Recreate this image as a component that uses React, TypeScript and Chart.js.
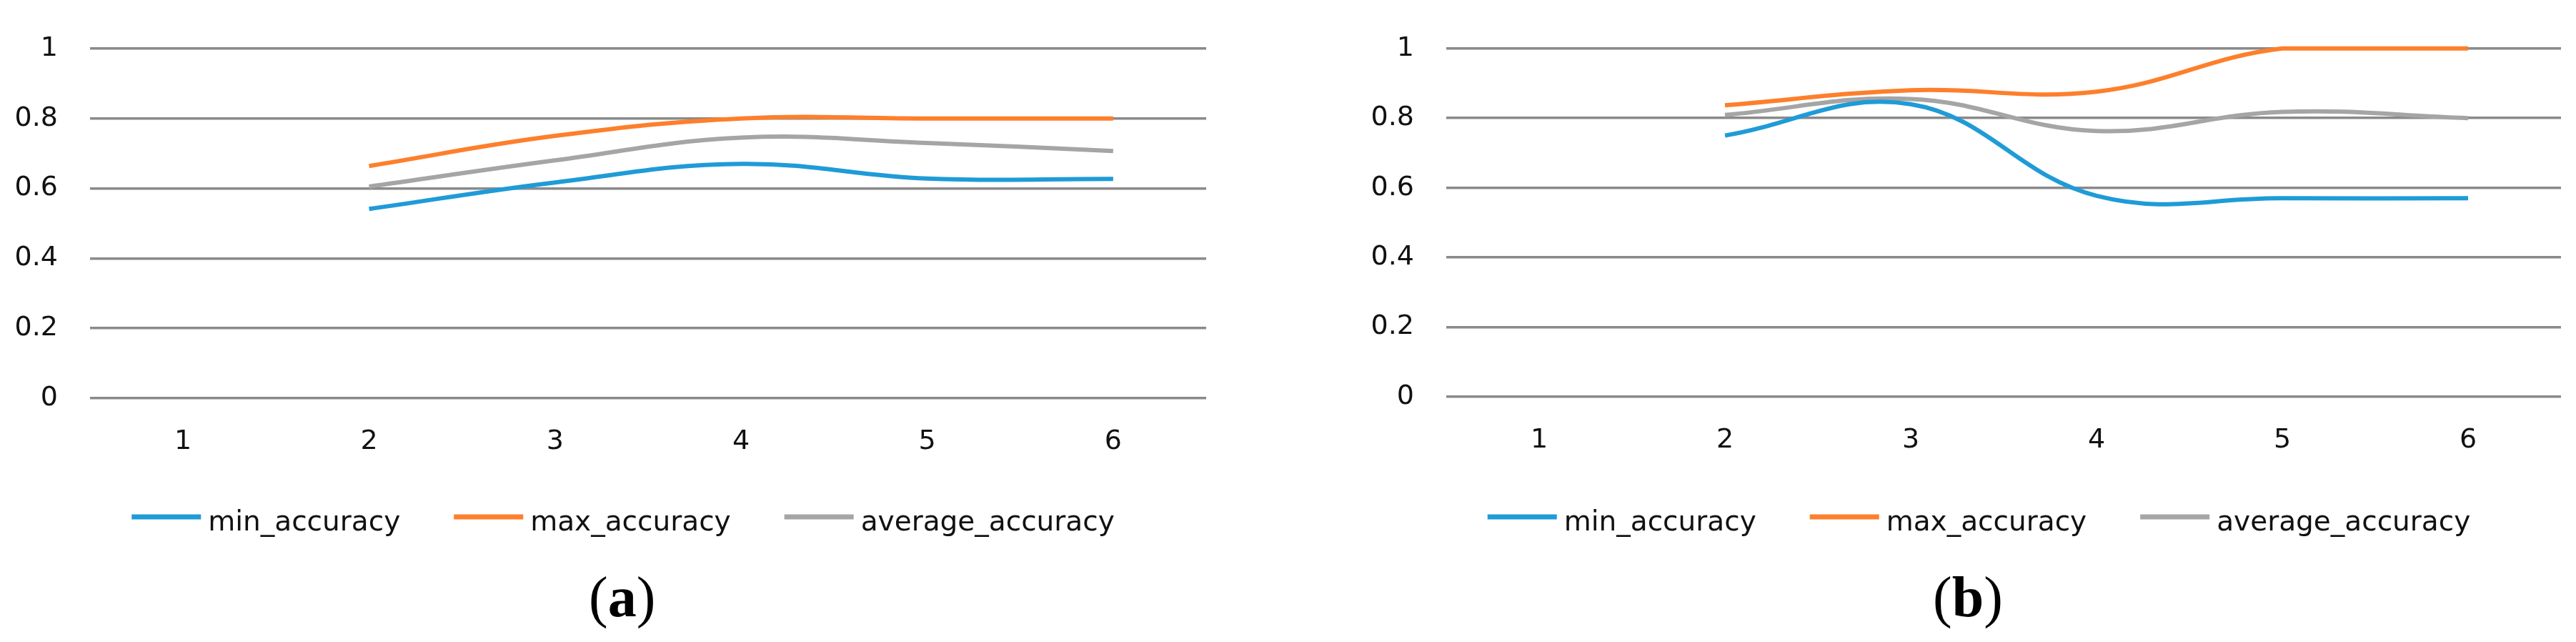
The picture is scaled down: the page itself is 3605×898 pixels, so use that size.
import React, { useEffect, useRef } from "react";
import { Chart, registerables } from "chart.js";

Chart.register(...registerables);

// ---------- data ----------
const categories = ["1", "2", "3", "4", "5", "6"];
const seriesNames = ["min_accuracy", "max_accuracy", "average_accuracy"];
const seriesColors = ["#1f9bd7", "#fd7f2c", "#a5a5a5"];
const yTickValues = [0, 0.2, 0.4, 0.6, 0.8, 1];
const yTickLabels = ["0", "0.2", "0.4", "0.6", "0.8", "1"];

const aMin = [null, 0.541, 0.617, 0.670, 0.628, 0.627];
const aMax = [null, 0.664, 0.750, 0.800, 0.800, 0.800];
const aAvg = [null, 0.605, 0.680, 0.745, 0.730, 0.707];

const bMin = [null, 0.750, 0.840, 0.577, 0.570, 0.570];
const bMax = [null, 0.837, 0.880, 0.876, 1.000, 1.000];
const bAvg = [null, 0.809, 0.855, 0.763, 0.818, 0.800];

const captionA = "a";
const captionB = "b";

// ---------- legend plugin ----------
const lineLegend = {
  id: "lineLegend",
  afterDraw(chart: any, _args: any, opts: any) {
    const ctx = chart.ctx;
    ctx.save();
    ctx.font = `${opts.fontSize}px ${opts.family}`;
    const items = chart.data.datasets.map((ds: any) => ({ text: ds.label, color: ds.borderColor }));
    const widths = items.map((it: any) => opts.lineLen + opts.textGap + ctx.measureText(it.text).width);
    const total = widths.reduce((a: number, b: number) => a + b, 0) + opts.itemGap * (items.length - 1);
    let x = opts.centerX - total / 2;
    items.forEach((it: any, i: number) => {
      ctx.strokeStyle = it.color;
      ctx.lineWidth = opts.lineWidth;
      ctx.lineCap = "butt";
      ctx.beginPath();
      ctx.moveTo(x, opts.lineY);
      ctx.lineTo(x + opts.lineLen, opts.lineY);
      ctx.stroke();
      ctx.fillStyle = "#111";
      ctx.textBaseline = "alphabetic";
      ctx.textAlign = "left";
      ctx.fillText(it.text, x + opts.lineLen + opts.textGap, opts.baseline);
      x += widths[i] + opts.itemGap;
    });
    ctx.restore();
  },
};

type Cfg = {
  min: (number | null)[];
  max: (number | null)[];
  avg: (number | null)[];
  width: number;
  height: number;
  padTop: number;
  padRight: number;
  padBottom: number;
  yWidth: number;
  xHeight: number;
  legendCenter: number;
};

function LineChart({ cfg }: { cfg: Cfg }) {
  const ref = useRef<HTMLCanvasElement | null>(null);
  useEffect(() => {
    if (!ref.current) return;
    const series = [cfg.min, cfg.max, cfg.avg];
    const chart = new Chart(ref.current, {
      type: "line",
      data: {
        labels: categories,
        datasets: series.map((d, i) => ({
          label: seriesNames[i],
          data: d,
          borderColor: seriesColors[i],
          backgroundColor: seriesColors[i],
          borderWidth: 6,
          pointRadius: 0,
          pointHoverRadius: 0,
          tension: 0.4,
          fill: false,
          clip: false as any,
        })),
      },
      options: {
        responsive: false,
        animation: false,
        devicePixelRatio: 1,
        layout: {
          padding: { top: cfg.padTop, right: cfg.padRight, bottom: cfg.padBottom, left: 0 },
        },
        plugins: {
          legend: { display: false },
          tooltip: { enabled: false },
          lineLegend: {
            centerX: cfg.legendCenter,
            lineY: 723,
            baseline: 742,
            lineLen: 97,
            textGap: 10,
            itemGap: 75,
            lineWidth: 7,
            fontSize: 39,
            family: "'DejaVu Sans'",
          },
        } as any,
        scales: {
          x: {
            type: "category",
            offset: true,
            grid: { display: false, drawTicks: false },
            border: { display: false },
            ticks: {
              color: "#111",
              padding: 38,
              font: { family: "'DejaVu Sans'", size: 38 },
              maxRotation: 0,
              autoSkip: false,
            },
            afterFit: (s: any) => {
              s.height = cfg.xHeight;
            },
          },
          y: {
            min: yTickValues[0],
            max: yTickValues[yTickValues.length - 1],
            afterBuildTicks: (s: any) => {
              s.ticks = yTickValues.map((v) => ({ value: v }));
            },
            grid: { color: "#8a8a8a", lineWidth: 3.5, drawTicks: false },
            border: { display: false },
            ticks: {
              color: "#111",
              padding: 45,
              font: { family: "'DejaVu Sans'", size: 38 },
              callback: (_v: any, i: number) => yTickLabels[i],
            },
            afterFit: (s: any) => {
              s.width = cfg.yWidth;
            },
          },
        },
      },
      plugins: [lineLegend],
    });
    return () => chart.destroy();
  }, [cfg]);
  return <canvas ref={ref} width={cfg.width} height={cfg.height} style={{ display: "block" }} />;
}

const cfgA: Cfg = {
  min: aMin,
  max: aMax,
  avg: aAvg,
  width: 1744,
  height: 898,
  padTop: 51,
  padRight: 1744 - 1688,
  padBottom: 898 - 557 - 100,
  yWidth: 126,
  xHeight: 100,
  legendCenter: 872,
};

const cfgB: Cfg = {
  min: bMin,
  max: bMax,
  avg: bAvg,
  width: 1705,
  height: 898,
  padTop: 49,
  padRight: 3605 - 3584,
  padBottom: 898 - 555 - 100,
  yWidth: 124,
  xHeight: 100,
  legendCenter: 869.5,
};

const captionStyle: React.CSSProperties = {
  position: "absolute",
  top: 795,
  fontFamily: "'Liberation Serif', 'Times New Roman', serif",
  fontSize: 80,
  lineHeight: "80px",
  color: "#000",
  whiteSpace: "nowrap",
};

export default function App() {
  return (
    <div
      style={{
        position: "absolute",
        left: 0,
        top: 0,
        width: 3605,
        height: 898,
        overflow: "hidden",
        background: "#fff",
      }}
    >
      <div style={{ position: "absolute", left: 0, top: 0 }}>
        <LineChart cfg={cfgA} />
      </div>
      <div style={{ position: "absolute", left: 1900, top: 0 }}>
        <LineChart cfg={cfgB} />
      </div>
      <div style={{ ...captionStyle, left: 824 }}>
        (<b>{captionA}</b>)
      </div>
      <div style={{ ...captionStyle, left: 2705 }}>
        (<b>{captionB}</b>)
      </div>
    </div>
  );
}
